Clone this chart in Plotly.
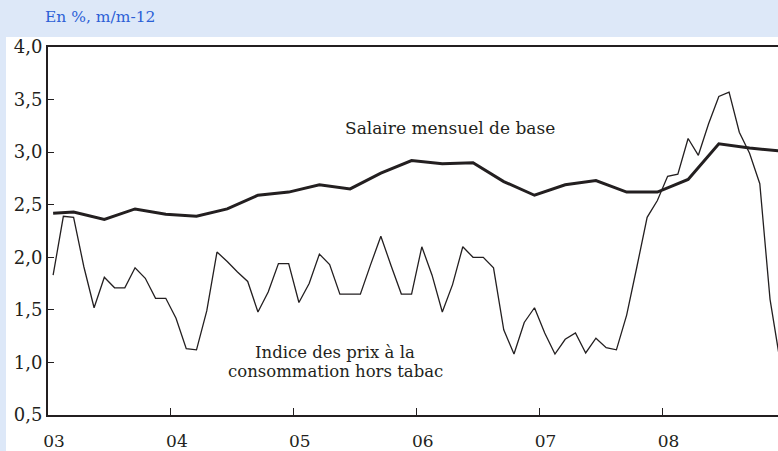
import plotly.graph_objects as go

# ---- data ----
years = [2003, 2004, 2005, 2006, 2007, 2008]
year_labels = ["03", "04", "05", "06", "07", "08"]

# Monthly CPI excl. tobacco, y/y %, Jan 2003 - Dec 2008
cpi_2003 = [1.83, 2.39, 2.38, 1.91, 1.52, 1.81, 1.71, 1.71, 1.90, 1.80, 1.61, 1.61]
cpi_2004 = [1.42, 1.13, 1.12, 1.49, 2.05, 1.96, 1.86, 1.77, 1.48, 1.67, 1.94, 1.94]
cpi_2005 = [1.57, 1.75, 2.03, 1.93, 1.65, 1.65, 1.65, 1.93, 2.20, 1.92, 1.65, 1.65]
cpi_2006 = [2.10, 1.83, 1.48, 1.74, 2.10, 2.00, 2.00, 1.90, 1.31, 1.08, 1.38, 1.52]
cpi_2007 = [1.28, 1.08, 1.22, 1.28, 1.09, 1.23, 1.14, 1.12, 1.45, 1.91, 2.38, 2.54]
cpi_2008 = [2.77, 2.79, 3.13, 2.97, 3.27, 3.53, 3.57, 3.19, 2.99, 2.70, 1.60, 1.00]
cpi = cpi_2003 + cpi_2004 + cpi_2005 + cpi_2006 + cpi_2007 + cpi_2008

# Basic monthly wage, y/y %; month index (0 = Jan 2003)
wage_months = [0, 2, 5, 8, 11, 14, 17, 20, 23, 26, 29, 32, 35, 38, 41, 44, 47,
               50, 53, 56, 59, 62, 65, 68, 71]
wage = [2.42, 2.43, 2.36, 2.46, 2.41, 2.39, 2.46, 2.59, 2.62, 2.69, 2.65, 2.80, 2.92,
        2.89, 2.90, 2.72, 2.59, 2.69, 2.73, 2.62, 2.62, 2.74, 3.08, 3.04, 3.01]

labels = {
    "wage": "Salaire mensuel de base",
    "cpi1": "Indice des prix à la",
    "cpi2": "consommation hors tabac",
    "unit": "En %, m/m-12",
}


def mx(m):
    return 2003 + (m + 0.5) / 12.0


cpi_x = [mx(m) for m in range(len(cpi))]
wage_x = [mx(m) for m in wage_months]

INK = "#231f20"
FONT = "DejaVu Serif"

fig = go.Figure()
fig.add_trace(go.Scatter(x=cpi_x, y=cpi, mode="lines",
                         line=dict(color=INK, width=1.3), hoverinfo="skip"))
fig.add_trace(go.Scatter(x=wage_x, y=wage, mode="lines",
                         line=dict(color=INK, width=3), hoverinfo="skip"))

W, H = 778, 451
L, R, T, B = 48, 0, 47, 36
pw, ph = W - L - R, H - T - B

fig.update_layout(
    width=W, height=H,
    margin=dict(l=L, r=R, t=T, b=B, pad=0, autoexpand=False),
    paper_bgcolor="#dde8f8",
    plot_bgcolor="white",
    showlegend=False,
    separators=", ",
    font=dict(family=FONT, size=17, color=INK),
    shapes=[dict(type="rect", xref="paper", yref="paper", layer="below",
                 x0=(6 - L) / pw, x1=1.05, y0=-0.3, y1=1 + (T - 37) / ph,
                 fillcolor="white", line=dict(width=0))],
)

fig.update_xaxes(
    range=[2003, 2003 + pw / 122.9],
    tickvals=years, ticktext=year_labels,
    ticks="inside", ticklen=7, tickwidth=1, tickcolor=INK,
    showline=True, linewidth=2, linecolor=INK, mirror=True,
    showgrid=False, zeroline=False, automargin=False,
    ticklabelshift=6, ticklabelstandoff=10,
    tickfont=dict(family=FONT, size=17, color=INK),
)
fig.update_yaxes(
    range=[0.5, 4.0], dtick=0.5, tick0=0.5, tickformat=".1f",
    ticks="inside", ticklen=6, tickwidth=1, tickcolor=INK,
    showline=True, linewidth=2, linecolor=INK,
    showgrid=False, zeroline=False, automargin=False,
    ticklabelstandoff=0,
    tickfont=dict(family=FONT, size=18, color=INK),
)


def px_to_y(py):
    return 4.0 - (py - T) / (ph / 3.5)


def px_to_x(pxx):
    return 2003 + (pxx - L) / 122.9


fig.add_annotation(x=px_to_x(450), y=px_to_y(128), xref="x", yref="y",
                   text=labels["wage"], showarrow=False,
                   font=dict(family=FONT, size=17, color=INK))
fig.add_annotation(x=px_to_x(335), y=px_to_y(352), xref="x", yref="y",
                   text=labels["cpi1"], showarrow=False, borderpad=0,
                   font=dict(family=FONT, size=16.5, color=INK))
fig.add_annotation(x=px_to_x(335), y=px_to_y(371), xref="x", yref="y",
                   text=labels["cpi2"], showarrow=False, borderpad=0,
                   font=dict(family=FONT, size=16.5, color=INK))
fig.add_annotation(x=(43 - L) / pw, y=1 + (T - 17) / ph, xref="paper", yref="paper",
                   xanchor="left", yanchor="middle",
                   text=labels["unit"], showarrow=False,
                   font=dict(family=FONT, size=15.5, color="#2b5fd6"))

fig.write_html(
    "out.html",
    config={"displayModeBar": False, "staticPlot": True},
    post_script="document.body.style.margin='0';document.body.style.padding='0';"
                "document.documentElement.style.overflow='hidden';",
)
